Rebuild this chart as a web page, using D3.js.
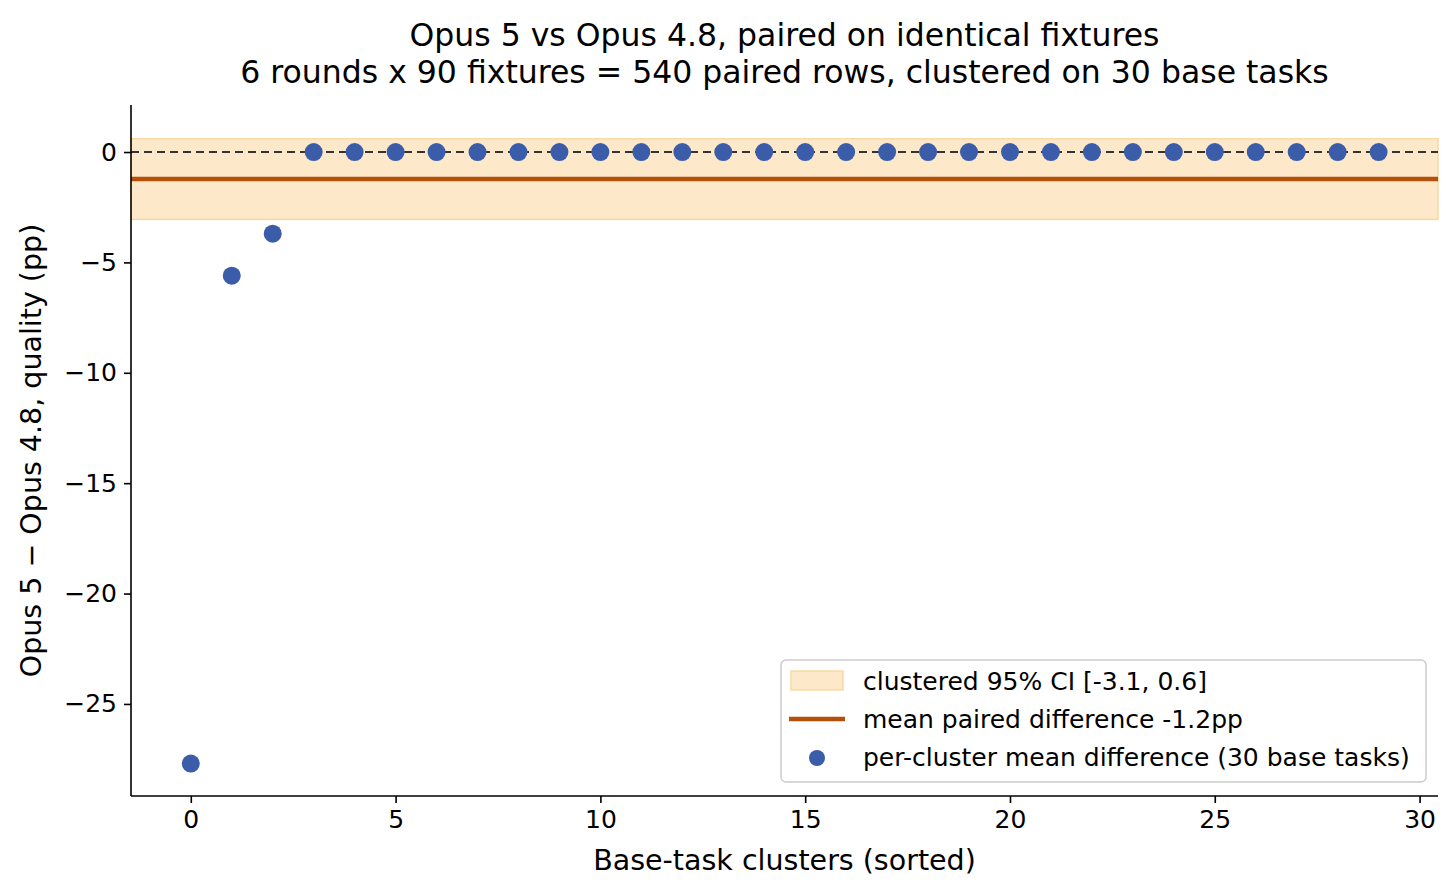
<!DOCTYPE html>
<html lang="en">
<head>
    <meta charset="UTF-8">
    <title>Opus 5 vs Opus 4.8 paired differences</title>
    <script src="https://cdn.jsdelivr.net/npm/d3@7"></script>
    <style>
        body { margin: 0; background: #fff; }
        text { font-family: "DejaVu Sans", sans-serif; fill: #000; }
    </style>
</head>
<body>
    <script>
        // per-cluster mean difference, sorted (pp)
        var clusterIdx = d3.range(30);
        var clusterDiff = [-27.7, -5.6, -3.7, 0, 0, 0, 0, 0, 0, 0,
                           0, 0, 0, 0, 0, 0, 0, 0, 0, 0,
                           0, 0, 0, 0, 0, 0, 0, 0, 0, 0];
        var meanDiff = -1.22;
        var ciBounds = [-3.05, 0.6];
        var xTicks = [0, 5, 10, 15, 20, 25, 30];
        var yTicks = [0, -5, -10, -15, -20, -25];
        var legendLabels = ["clustered 95% CI [-3.1, 0.6]",
                            "mean paired difference -1.2pp",
                            "per-cluster mean difference (30 base tasks)"];

        var W = 1456, H = 896;
        var margin = { top: 105, right: 18, bottom: 100, left: 131 };
        var innerW = W - margin.left - margin.right,
            innerH = H - margin.top - margin.bottom;

        var x = d3.scaleLinear().domain([-1.46, 30.45]).range([0, innerW]);
        var y = d3.scaleLinear().domain([-29.17, 2.13]).range([innerH, 0]);

        var svg = d3.select("body").append("svg")
            .attr("width", W)
            .attr("height", H);

        var g = svg.append("g")
            .attr("transform", "translate(" + margin.left + "," + margin.top + ")");

        // CI band
        g.append("rect")
            .attr("x", 0)
            .attr("width", innerW)
            .attr("y", y(ciBounds[1]))
            .attr("height", y(ciBounds[0]) - y(ciBounds[1]))
            .attr("fill", "#fde9c9")
            .attr("stroke", "#f9d9a3")
            .attr("stroke-width", 1.5);

        // zero reference
        g.append("line")
            .attr("x1", 0).attr("x2", innerW)
            .attr("y1", y(0)).attr("y2", y(0))
            .attr("stroke", "#333")
            .attr("stroke-width", 2)
            .attr("stroke-dasharray", "8,5");

        // mean line
        g.append("line")
            .attr("x1", 0).attr("x2", innerW)
            .attr("y1", y(meanDiff)).attr("y2", y(meanDiff))
            .attr("stroke", "#b5500a")
            .attr("stroke-width", 4.5);

        g.selectAll(".dot")
            .data(clusterIdx)
            .enter().append("circle")
            .attr("class", "dot")
            .attr("cx", d => x(d))
            .attr("cy", d => y(clusterDiff[d]))
            .attr("r", 9)
            .attr("fill", "#3a5ca9");

        // axes
        var xAxis = d3.axisBottom(x).tickValues(xTicks).tickSize(7).tickPadding(7)
            .tickFormat(d3.format("d"));
        var yAxis = d3.axisLeft(y).tickValues(yTicks).tickSize(7).tickPadding(7)
            .tickFormat(d => d < 0 ? "\u2212" + Math.abs(d) : d);

        var gx = g.append("g")
            .attr("transform", "translate(0," + innerH + ")")
            .call(xAxis);
        var gy = g.append("g").call(yAxis);

        [gx, gy].forEach(function (a) {
            a.selectAll("path.domain").attr("stroke", "#000").attr("stroke-width", 1.6);
            a.selectAll(".tick line").attr("stroke", "#000").attr("stroke-width", 1.6);
            a.selectAll(".tick text").style("font-size", "25px").attr("fill", "#000");
        });
        gx.select("path.domain").attr("d", "M0,0H" + innerW);
        gy.select("path.domain").attr("d", "M0," + innerH + "V0");

        // titles
        svg.append("text")
            .attr("x", margin.left + innerW / 2).attr("y", 46)
            .attr("text-anchor", "middle")
            .style("font-size", "31.5px")
            .text("Opus 5 vs Opus 4.8, paired on identical fixtures");
        svg.append("text")
            .attr("x", margin.left + innerW / 2).attr("y", 83)
            .attr("text-anchor", "middle")
            .style("font-size", "31.5px")
            .text("6 rounds x 90 fixtures = 540 paired rows, clustered on 30 base tasks");

        svg.append("text")
            .attr("x", margin.left + innerW / 2).attr("y", 870)
            .attr("text-anchor", "middle")
            .style("font-size", "28.5px")
            .text("Base-task clusters (sorted)");

        svg.append("text")
            .attr("transform", "translate(41," + (margin.top + innerH / 2) + ") rotate(-90)")
            .attr("text-anchor", "middle")
            .style("font-size", "28.5px")
            .text("Opus 5 \u2212 Opus 4.8, quality (pp)");

        // legend
        var lg = svg.append("g").attr("transform", "translate(781,660)");
        lg.append("rect")
            .attr("width", 645).attr("height", 122)
            .attr("rx", 5)
            .attr("fill", "#fff").attr("fill-opacity", 0.85)
            .attr("stroke", "#ccc").attr("stroke-width", 1.5);

        lg.append("rect")
            .attr("x", 10).attr("y", 11).attr("width", 52).attr("height", 19)
            .attr("fill", "#fde9c9").attr("stroke", "#f9d9a3").attr("stroke-width", 1.5);
        lg.append("line")
            .attr("x1", 8).attr("x2", 64).attr("y1", 59).attr("y2", 59)
            .attr("stroke", "#b5500a").attr("stroke-width", 4.5);
        lg.append("circle")
            .attr("cx", 36).attr("cy", 98).attr("r", 8)
            .attr("fill", "#3a5ca9");

        lg.selectAll(".lab")
            .data(legendLabels)
            .enter().append("text")
            .attr("class", "lab")
            .attr("x", 82)
            .attr("y", (d, i) => 21 + i * 38)
            .attr("dy", "0.35em")
            .style("font-size", "25px")
            .text(d => d);
    </script>
</body>
</html>
